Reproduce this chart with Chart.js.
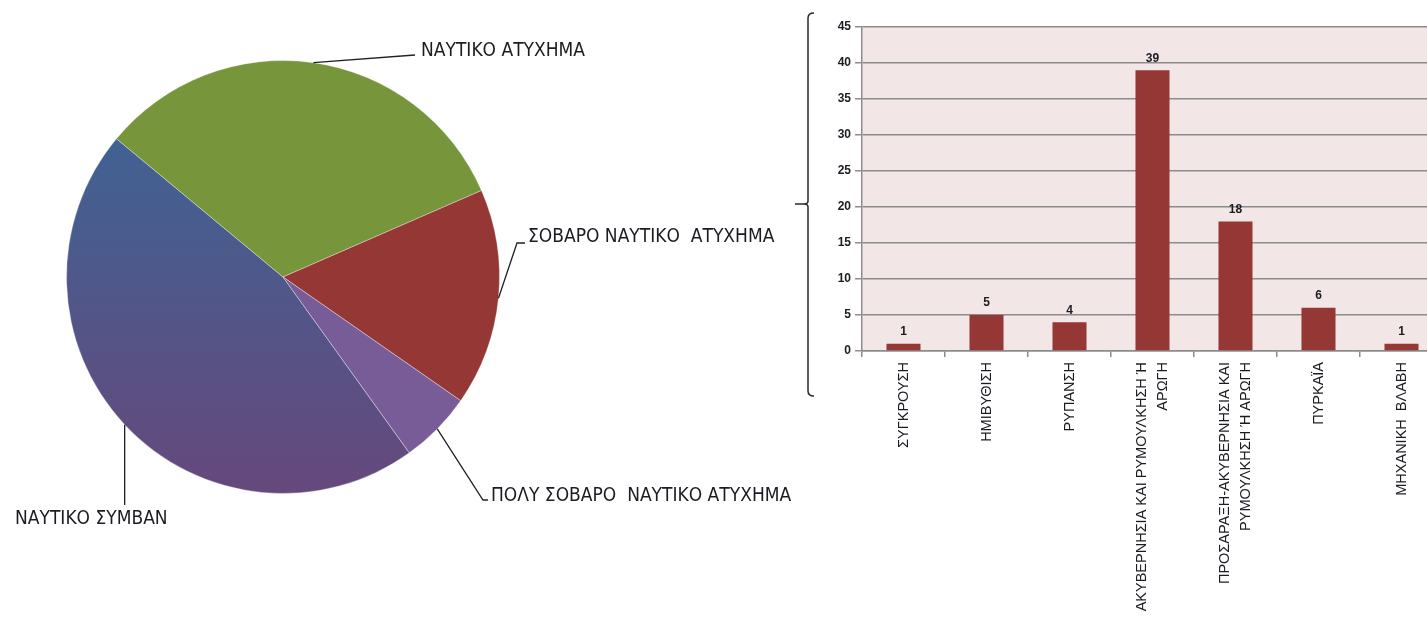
<!DOCTYPE html>
<html>
<head>
<meta charset="utf-8">
<script src="https://cdn.jsdelivr.net/npm/chart.js@4"></script>
<style>
  html, body { margin:0; padding:0; background:#fff; width:1427px; height:619px; overflow:hidden; }
  #pie { position:absolute; left:0; top:0; }
  #bar { position:absolute; left:780px; top:0; }
</style>
</head>
<body>
<canvas id="pie" width="820" height="619"></canvas>
<canvas id="bar" width="680" height="619"></canvas>
<script>
// ---------- DATA ----------
const pieLabels = ['ΝΑΥΤΙΚΟ ΣΥΜΒΑΝ', 'ΝΑΥΤΙΚΟ ΑΤΥΧΗΜΑ', 'ΣΟΒΑΡΟ ΝΑΥΤΙΚΟ  ΑΤΥΧΗΜΑ', 'ΠΟΛΥ ΣΟΒΑΡΟ  ΝΑΥΤΙΚΟ ΑΤΥΧΗΜΑ'];
const pieValues = [34, 24, 12, 4];

const barLabels = [
  'ΣΥΓΚΡΟΥΣΗ',
  'ΗΜΙΒΥΘΙΣΗ',
  'ΡΥΠΑΝΣΗ',
  ['ΑΚΥΒΕΡΝΗΣΙΑ ΚΑΙ ΡΥΜΟΥΛΚΗΣΗ Ή', 'ΑΡΩΓΗ'],
  ['ΠΡΟΣΑΡΑΞΗ-ΑΚΥΒΕΡΝΗΣΙΑ ΚΑΙ', 'ΡΥΜΟΥΛΚΗΣΗ Ή ΑΡΩΓΗ'],
  'ΠΥΡΚΑΪΑ',
  'ΜΗΧΑΝΙΚΗ  ΒΛΑΒΗ'
];
const barValues = [1, 5, 4, 39, 18, 6, 1];
const yTickValues = [0, 5, 10, 15, 20, 25, 30, 35, 40, 45];

// ---------- STYLE ----------
const NARROW = '"Liberation Sans Narrow", "DejaVu Sans Condensed", "Liberation Sans", sans-serif';
const SANS = '"Liberation Sans", Arial, sans-serif';
const TEXT = '#1b1b22';

const pieColors = [null, '#77963B', '#953735', '#785C98'];

// label placement for pie (offsets relative to pie center)
const pieLabelLayout = [
  { path: [['ax', 228]], text: [-268, 242] },
  { path: [[132, -222]], text: [138, -226] },
  { path: [[234, -34], [242, -34]], text: [245, -40] },
  { path: [[200, 223], [205, 223]], text: [208, 219] }
];

const pieLabelPlugin = {
  id: 'pieLabels',
  afterDatasetsDraw(chart) {
    const ctx = chart.ctx;
    const meta = chart.getDatasetMeta(0);
    ctx.save();
    ctx.strokeStyle = '#222';
    ctx.lineWidth = 1.3;
    ctx.fillStyle = TEXT;
    ctx.font = '19px ' + NARROW;
    ctx.textBaseline = 'middle';
    ctx.textAlign = 'left';
    meta.data.forEach((arc, i) => {
      const p = arc.getProps(['x', 'y', 'startAngle', 'endAngle', 'outerRadius'], true);
      const mid = (p.startAngle + p.endAngle) / 2;
      const ax = p.x + p.outerRadius * Math.cos(mid);
      const ay = p.y + p.outerRadius * Math.sin(mid);
      const lay = pieLabelLayout[i];
      ctx.beginPath();
      ctx.moveTo(ax, ay);
      lay.path.forEach(pt => {
        const px = pt[0] === 'ax' ? ax : p.x + pt[0];
        ctx.lineTo(px, p.y + pt[1]);
      });
      ctx.stroke();
      ctx.fillText(pieLabels[i], p.x + lay.text[0], p.y + lay.text[1]);
    });
    ctx.restore();
  }
};

new Chart(document.getElementById('pie'), {
  type: 'pie',
  data: {
    labels: pieLabels,
    datasets: [{
      data: pieValues,
      backgroundColor: (c) => {
        if (c.dataIndex !== 0) return pieColors[c.dataIndex];
        const ch = c.chart;
        const area = ch.chartArea;
        if (!area) return '#4B5A8C';
        const g = ch.ctx.createLinearGradient(0, area.top, 0, area.bottom);
        g.addColorStop(0, 'rgb(55,104,152)');
        g.addColorStop(1, 'rgb(102,72,124)');
        return g;
      },
      borderColor: 'rgba(255,255,255,0.35)',
      borderWidth: 1
    }]
  },
  options: {
    responsive: false,
    animation: false,
    rotation: 144.3,
    layout: { padding: { left: 66, right: 320, top: 60, bottom: 125 } },
    plugins: { legend: { display: false }, tooltip: { enabled: false } }
  },
  plugins: [pieLabelPlugin]
});

// ---------- BAR ----------
const barDecor = {
  id: 'barDecor',
  beforeDraw(chart) {
    const { ctx, chartArea: a } = chart;
    ctx.save();
    ctx.fillStyle = '#F2E7E6';
    ctx.fillRect(a.left, a.top, a.right - a.left, a.bottom - a.top);
    ctx.restore();
  },
  afterDraw(chart) {
    const ctx = chart.ctx;
    // left brace
    ctx.save();
    ctx.strokeStyle = '#2a2a2a';
    ctx.lineWidth = 1.5;
    const x = 28, top = 13, bot = 396, mid = 204;
    ctx.beginPath();
    ctx.moveTo(34, top);
    ctx.quadraticCurveTo(x, top, x, top + 5);
    ctx.lineTo(x, mid - 3);
    ctx.quadraticCurveTo(x, mid, x - 4, mid);
    ctx.lineTo(15, mid);
    ctx.moveTo(x - 4, mid);
    ctx.quadraticCurveTo(x, mid, x, mid + 3);
    ctx.lineTo(x, bot - 5);
    ctx.quadraticCurveTo(x, bot, 34, bot);
    ctx.stroke();
    ctx.restore();

    // category labels, rotated, lines centred on each category
    const xs = chart.scales.x;
    ctx.save();
    ctx.fillStyle = TEXT;
    ctx.font = '14.5px ' + SANS;
    ctx.textAlign = 'right';
    ctx.textBaseline = 'middle';
    const lh = 21;
    const yTop = xs.top + 11;
    barLabels.forEach((lab, i) => {
      const lines = Array.isArray(lab) ? lab : [lab];
      const px = xs.getPixelForTick(i);
      ctx.save();
      ctx.translate(px, yTop);
      ctx.rotate(-Math.PI / 2);
      lines.forEach((ln, j) => {
        ctx.fillText(ln, 0, (j - (lines.length - 1) / 2) * lh);
      });
      ctx.restore();
    });
    ctx.restore();
  },
  afterDatasetsDraw(chart) {
    const ctx = chart.ctx;
    const meta = chart.getDatasetMeta(0);
    ctx.save();
    ctx.fillStyle = TEXT;
    ctx.font = 'bold 12px ' + SANS;
    ctx.textAlign = 'center';
    ctx.textBaseline = 'bottom';
    meta.data.forEach((bar, i) => {
      ctx.fillText(String(barValues[i]), bar.x, bar.y - 6);
    });
    ctx.restore();
  }
};

new Chart(document.getElementById('bar'), {
  type: 'bar',
  data: {
    labels: barLabels,
    datasets: [{
      data: barValues,
      backgroundColor: '#953735',
      borderWidth: 0,
      categoryPercentage: 1,
      barPercentage: 0.41
    }]
  },
  options: {
    responsive: false,
    animation: false,
    layout: { padding: { left: 0, right: 17, top: 27, bottom: 0 } },
    plugins: { legend: { display: false }, tooltip: { enabled: false } },
    scales: {
      x: {
        offset: true,
        grid: { display: true, drawOnChartArea: false, drawTicks: true, tickLength: 6, color: '#8c8c8c', lineWidth: 1.5, offset: true },
        border: { display: true, color: '#8c8c8c', width: 1.5 },
        ticks: { autoSkip: false, display: false },
        afterFit(s) { s.height = 268; }
      },
      y: {
        min: 0, max: 45,
        afterBuildTicks(s) { s.ticks = yTickValues.map(v => ({ value: v })); },
        grid: { color: '#8c8c8c', lineWidth: 1.5, tickLength: 7 },
        border: { display: true, color: '#8c8c8c', width: 1.5 },
        ticks: { padding: 4, color: TEXT, font: { family: SANS, size: 12, weight: 'bold' } },
        afterFit(s) { s.width = 82; }
      }
    }
  },
  plugins: [barDecor]
});
</script>
</body>
</html>
